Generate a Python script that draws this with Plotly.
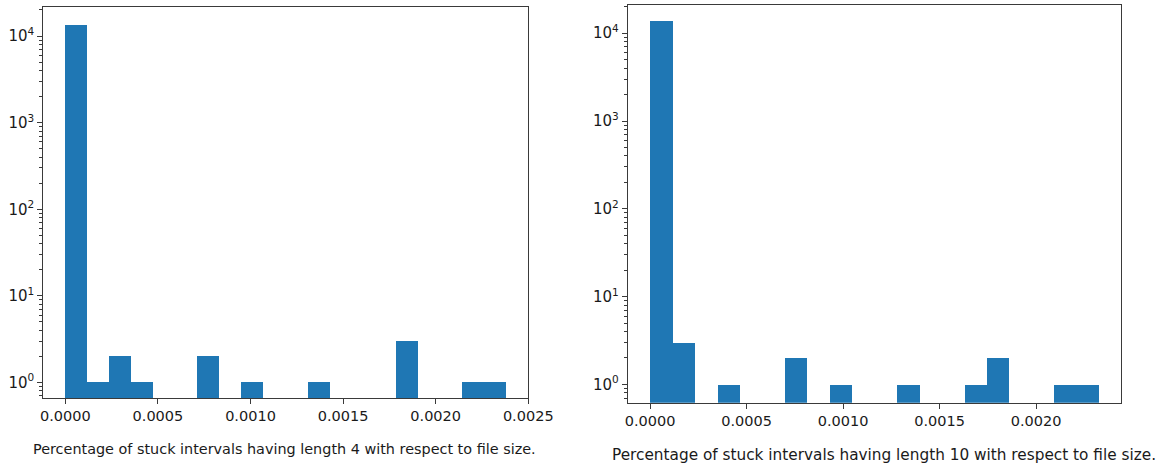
import numpy as np
import plotly.graph_objects as go

# Histogram counts (20 equal-width bins each) and the data range they span
counts_len4 = [13300, 1, 2, 1, 0, 0, 2, 0, 1, 0, 0, 1, 0, 0, 0, 3, 0, 0, 1, 1]
range_len4 = [0.0, 0.002381]

counts_len10 = [13800, 3, 0, 1, 0, 0, 2, 0, 1, 0, 0, 1, 0, 0, 1, 2, 0, 0, 1, 1]
range_len10 = [0.0, 0.002325]

captions = [
    "Percentage of stuck intervals having length 4 with respect to file size.",
    "Percentage of stuck intervals having length 10 with respect to file size.",
]

x_ticks_len4 = [0.0, 0.0005, 0.0010, 0.0015, 0.0020, 0.0025]
x_ticks_len10 = [0.0, 0.0005, 0.0010, 0.0015, 0.0020]
decades = [0, 1, 2, 3, 4]

W, H = 1158, 467
BLUE = "#1f77b4"
FONT = "DejaVu Sans"
INK = "#1a1a1a"
SPINE = "#3a3a3a"


def bins(counts, rng):
    n = len(counts)
    edges = np.linspace(rng[0], rng[1], n + 1)
    centers = (edges[:-1] + edges[1:]) / 2
    width = edges[1] - edges[0]
    y = [c if c > 0 else None for c in counts]
    return centers, y, width


def px_x(a, b):
    return [a / W, b / W]


def px_y(top, bottom):
    return [(H - bottom) / H, (H - top) / H]


fig = go.Figure()

panels = [
    dict(counts=counts_len4, rng=range_len4, ticks=x_ticks_len4,
         xdom=px_x(43.3, 528.3), ydom=px_y(7.3, 398.0),
         yrange=[np.log10(0.662), 4.332]),
    dict(counts=counts_len10, rng=range_len10, ticks=x_ticks_len10,
         xdom=px_x(627.7, 1121.3), ydom=px_y(4.7, 402.7),
         yrange=[np.log10(0.619), 4.325]),
]

minor_vals = [m * 10 ** d for d in range(-1, 5) for m in range(2, 10)]

for i, p in enumerate(panels):
    k = "" if i == 0 else str(i + 1)
    centers, y, width = bins(p["counts"], p["rng"])
    fig.add_trace(go.Bar(
        x=centers, y=y, width=width,
        marker=dict(color=BLUE, line=dict(width=0)),
        xaxis="x" + k, yaxis="y" + k, showlegend=False,
    ))
    span = p["rng"][1] - p["rng"][0]
    xr = [p["rng"][0] - 0.05 * span, p["rng"][1] + 0.05 * span + 1e-7]
    fig.update_layout(**{
        "xaxis" + k: dict(
            domain=p["xdom"], anchor="y" + k, range=xr, automargin=False,
            tickvals=p["ticks"], ticktext=[f"{t:.4f}" for t in p["ticks"]],
            ticks="outside", ticklen=5, tickwidth=1, tickcolor=SPINE,
            showline=True, linecolor=SPINE, linewidth=1, mirror=True,
            showgrid=False, zeroline=False,
            tickfont=dict(family=FONT, size=14.5, color=INK),
        ),
        "yaxis" + k: dict(
            domain=p["ydom"], anchor="x" + k, type="log", range=p["yrange"],
            automargin=False,
            tickvals=[10 ** d for d in decades],
            ticktext=[f"10<sup>{d}</sup>" for d in decades],
            ticks="outside", ticklen=5, tickwidth=1, tickcolor=SPINE,
            minor=dict(tickvals=minor_vals, ticks="outside", ticklen=3,
                       tickwidth=0.8, tickcolor=SPINE, showgrid=False),
            showline=True, linecolor=SPINE, linewidth=1, mirror=True,
            showgrid=False, zeroline=False,
            tickfont=dict(family=FONT, size=15, color=INK),
        ),
    })

fig.add_annotation(text=captions[0], x=284 / W, y=(H - 449) / H,
                   xref="paper", yref="paper", showarrow=False,
                   xanchor="center", yanchor="middle",
                   font=dict(family=FONT, size=14.4, color=INK))
fig.add_annotation(text=captions[1], x=883.5 / W, y=(H - 455) / H,
                   xref="paper", yref="paper", showarrow=False,
                   xanchor="center", yanchor="middle",
                   font=dict(family=FONT, size=15.3, color=INK))

fig.update_layout(
    width=W, height=H, margin=dict(l=0, r=0, t=0, b=0),
    paper_bgcolor="white", plot_bgcolor="white", bargap=0,
)

fig.write_html("out.html")
